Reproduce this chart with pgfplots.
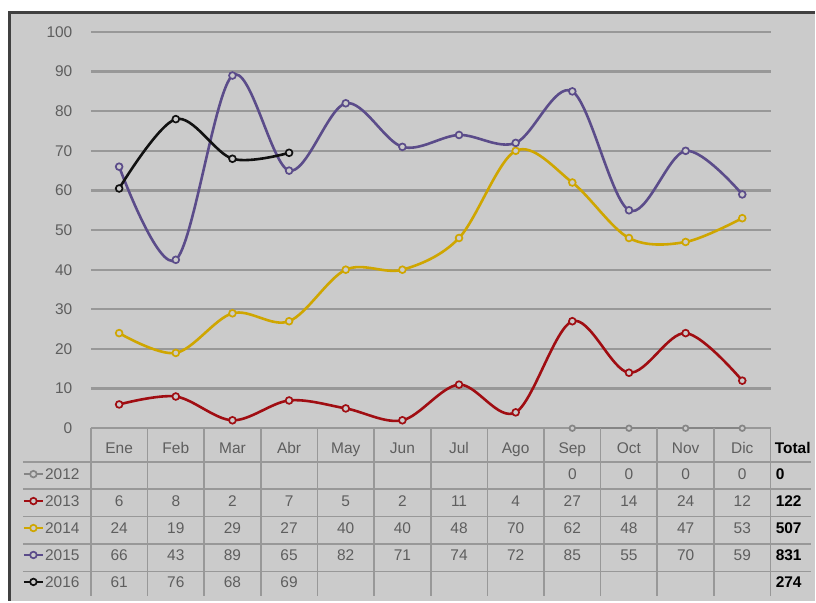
\documentclass[border=0pt]{standalone}
\usepackage{pgfplots}
\pgfplotsset{compat=1.18}
\usepackage{fontspec}
\setmainfont{Liberation Sans}

\definecolor{bg}{HTML}{CBCBCB}
\definecolor{gridc}{HTML}{989898}
\definecolor{txt}{HTML}{5E5E5E}
\definecolor{c12}{HTML}{858585}
\definecolor{c13}{HTML}{A00D12}
\definecolor{c14}{HTML}{CFA600}
\definecolor{c15}{HTML}{5B4C8A}
\definecolor{c16}{HTML}{111111}

\newcommand{\tf}{\fontsize{15.5}{16}\selectfont}

\begin{document}
\begin{tikzpicture}[x=1pt,y=1pt]
% fondo
\fill[white] (0,0) rectangle (816,602);
\fill[bg] (8,0) rectangle (816,590);
\draw[line width=3pt, black!75] (9.5,0) -- (9.5,589.5) -- (816,589.5);

\begin{axis}[
  at={(91pt,173pt)}, anchor=south west,
  scale only axis, width=681pt, height=397pt,
  xmin=0.5, xmax=12.5, ymin=0, ymax=100,
  xtick=\empty, ytick={0,10,...,100},
  axis line style={draw=none},
  major tick length=0pt,
  ymajorgrids,
  grid style={gridc, line width=2.2pt},
  /pgf/number format/assume math mode=true,
  yticklabel style={text=txt, font=\tf, xshift=-15pt},
  clip=false,
  every axis plot/.append style={smooth, tension=0.55, line width=2.6pt,
     mark=*, mark size=3.4pt, mark options={fill=bg, line width=1.7pt}},
]
% 2012
\addplot[c12, line width=1.8pt, mark size=2.8pt] coordinates {(9,0) (10,0) (11,0) (12,0)};
% 2013
\addplot[c13] coordinates {(1,6) (2,8) (3,2) (4,7) (5,5) (6,2) (7,11) (8,4) (9,27) (10,14) (11,24) (12,12)};
% 2014
\addplot[c14] coordinates {(1,24) (2,19) (3,29) (4,27) (5,40) (6,40) (7,48) (8,70) (9,62) (10,48) (11,47) (12,53)};
% 2015
\addplot[c15] coordinates {(1,66) (2,42.5) (3,89) (4,65) (5,82) (6,71) (7,74) (8,72) (9,85) (10,55) (11,70) (12,59)};
% 2016
\addplot[c16] coordinates {(1,60.5) (2,78) (3,68) (4,69.5)};
\end{axis}

% tabla
\foreach \k in {0,...,12}
  \draw[gridc, line width=1.6pt] ({91+56.75*\k},173) -- ({91+56.75*\k},5);
\foreach \yy in {139.3,112,84.7,57,29.3}
  \draw[gridc, line width=1.6pt] (23,\yy) -- (812,\yy);

\foreach \m [count=\i] in {Ene,Feb,Mar,Abr,May,Jun,Jul,Ago,Sep,Oct,Nov,Dic}
  \node[txt, font=\tf, anchor=base] at ({91+56.75*(\i-0.5)},147.5) {\m};
\node[anchor=base west, font=\tf\bfseries, inner sep=0] at (776,147.5) {Total};

% filas
\foreach \yr/\col/\yy/\tot in {2012/c12/127/0, 2013/c13/100/122, 2014/c14/73/507, 2015/c15/46/831, 2016/c16/19/274}{
  \draw[\col, line width=2.4pt] (24,\yy) -- (43,\yy);
  \draw[\col, line width=1.7pt, fill=bg] (33.5,\yy) circle (3.3pt);
  \node[anchor=west, txt, font=\tf, inner sep=0] at (45,\yy) {\yr};
  \node[anchor=west, font=\tf\bfseries, inner sep=0] at (777,\yy) {\tot};
}

\foreach \v [count=\i] in {,,,,,,,,0,0,0,0}
  \node[txt, font=\tf] at ({91+56.75*(\i-0.5)},127) {\v};
\foreach \v [count=\i] in {6,8,2,7,5,2,11,4,27,14,24,12}
  \node[txt, font=\tf] at ({91+56.75*(\i-0.5)},100) {\v};
\foreach \v [count=\i] in {24,19,29,27,40,40,48,70,62,48,47,53}
  \node[txt, font=\tf] at ({91+56.75*(\i-0.5)},73) {\v};
\foreach \v [count=\i] in {66,43,89,65,82,71,74,72,85,55,70,59}
  \node[txt, font=\tf] at ({91+56.75*(\i-0.5)},46) {\v};
\foreach \v [count=\i] in {61,76,68,69,,,,,,,,}
  \node[txt, font=\tf] at ({91+56.75*(\i-0.5)},19) {\v};
\end{tikzpicture}
\end{document}
